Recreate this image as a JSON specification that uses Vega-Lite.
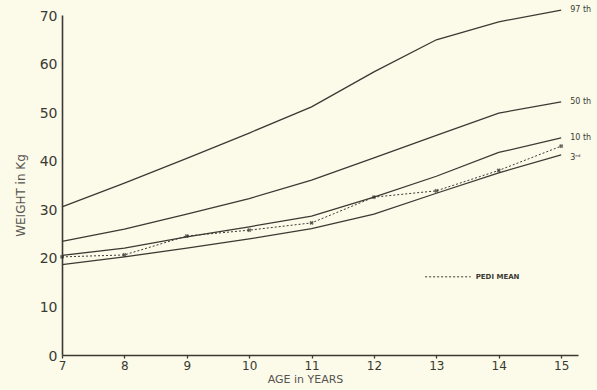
{
  "$schema": "https://vega.github.io/schema/vega-lite/v6.json",
  "width": 516,
  "height": 340,
  "autosize": {"type": "none"},
  "padding": {"left": 62, "top": 15, "right": 19, "bottom": 35},
  "background": "#fcfae9",
  "config": {
    "view": {"stroke": null},
    "font": "DejaVu Sans",
    "axis": {"grid": false, "domainColor": "#3a3a33", "tickColor": "#3a3a33", "labelColor": "#3a3a33", "titleColor": "#555550", "domainWidth": 1.6, "tickWidth": 1.3}
  },
  "datasets": {
    "growth": [
      {"age": 7, "weight": 30.5, "series": "97th"},
      {"age": 8, "weight": 35.4, "series": "97th"},
      {"age": 9, "weight": 40.5, "series": "97th"},
      {"age": 10, "weight": 45.7, "series": "97th"},
      {"age": 11, "weight": 51.1, "series": "97th"},
      {"age": 12, "weight": 58.3, "series": "97th"},
      {"age": 13, "weight": 64.9, "series": "97th"},
      {"age": 14, "weight": 68.6, "series": "97th"},
      {"age": 15, "weight": 71.0, "series": "97th"},
      {"age": 7, "weight": 23.4, "series": "50th"},
      {"age": 8, "weight": 25.9, "series": "50th"},
      {"age": 9, "weight": 29.0, "series": "50th"},
      {"age": 10, "weight": 32.2, "series": "50th"},
      {"age": 11, "weight": 36.0, "series": "50th"},
      {"age": 12, "weight": 40.6, "series": "50th"},
      {"age": 13, "weight": 45.2, "series": "50th"},
      {"age": 14, "weight": 49.8, "series": "50th"},
      {"age": 15, "weight": 52.1, "series": "50th"},
      {"age": 7, "weight": 20.5, "series": "10th"},
      {"age": 8, "weight": 22.0, "series": "10th"},
      {"age": 9, "weight": 24.3, "series": "10th"},
      {"age": 10, "weight": 26.4, "series": "10th"},
      {"age": 11, "weight": 28.6, "series": "10th"},
      {"age": 12, "weight": 32.5, "series": "10th"},
      {"age": 13, "weight": 36.8, "series": "10th"},
      {"age": 14, "weight": 41.7, "series": "10th"},
      {"age": 15, "weight": 44.7, "series": "10th"},
      {"age": 7, "weight": 18.6, "series": "3rd"},
      {"age": 8, "weight": 20.2, "series": "3rd"},
      {"age": 9, "weight": 22.0, "series": "3rd"},
      {"age": 10, "weight": 23.9, "series": "3rd"},
      {"age": 11, "weight": 26.0, "series": "3rd"},
      {"age": 12, "weight": 29.0, "series": "3rd"},
      {"age": 13, "weight": 33.3, "series": "3rd"},
      {"age": 14, "weight": 37.5, "series": "3rd"},
      {"age": 15, "weight": 41.2, "series": "3rd"}
    ],
    "mean": [
      {"age": 7, "weight": 20.2},
      {"age": 8, "weight": 20.6},
      {"age": 9, "weight": 24.5},
      {"age": 10, "weight": 25.7},
      {"age": 11, "weight": 27.2},
      {"age": 12, "weight": 32.5},
      {"age": 13, "weight": 33.8},
      {"age": 14, "weight": 38.0},
      {"age": 15, "weight": 43.0}
    ],
    "labels": [
      {"age": 15, "weight": 71.0, "label": "97 th"},
      {"age": 15, "weight": 52.1, "label": "50 th"},
      {"age": 15, "weight": 44.7, "label": "10 th"},
      {"age": 15, "weight": 40.6, "label": "3ʳᵈ"}
    ],
    "legend": [
      {"age": 12.82, "age2": 13.55, "weight": 16.1, "label": "PEDI  MEAN"}
    ]
  },
  "layer": [
    {
      "data": {"name": "growth"},
      "mark": {"type": "line", "color": "#3a3a33", "strokeWidth": 1.3},
      "encoding": {
        "x": {"field": "age", "type": "quantitative", "scale": {"domain": [7, 15.27], "nice": false, "zero": false},
          "axis": {"title": "AGE  in  YEARS", "values": [7, 8, 9, 10, 11, 12, 13, 14, 15], "format": "d", "tickSize": 3, "labelPadding": 2, "labelFontSize": 12, "labelFont": "DejaVu Sans", "titleFontSize": 11, "titleFontWeight": "normal", "titlePadding": 2, "titleX": 243, "labelFlush": false}},
        "y": {"field": "weight", "type": "quantitative", "scale": {"domain": [0, 70], "nice": false},
          "axis": {"title": "WEIGHT  in  Kg", "values": [0, 10, 20, 30, 40, 50, 60, 70], "tickSize": 0, "labelPadding": 5, "labelFontSize": 14, "labelFont": "DejaVu Sans", "labelBaseline": "bottom", "labelOffset": 8, "titleFontSize": 12, "titleFontWeight": "normal", "titlePadding": 12, "titleY": 180}},
        "detail": {"field": "series"}
      }
    },
    {
      "data": {"name": "mean"},
      "mark": {"type": "line", "color": "#3a3a33", "strokeWidth": 1, "strokeDash": [2, 2]},
      "encoding": {
        "x": {"field": "age", "type": "quantitative"},
        "y": {"field": "weight", "type": "quantitative"}
      }
    },
    {
      "data": {"name": "mean"},
      "mark": {"type": "point", "shape": "cross", "angle": 45, "size": 18, "filled": true, "color": "#2a2a25"},
      "encoding": {
        "x": {"field": "age", "type": "quantitative"},
        "y": {"field": "weight", "type": "quantitative"}
      }
    },
    {
      "data": {"name": "labels"},
      "mark": {"type": "text", "align": "left", "dx": 9, "fontSize": 8, "color": "#3a3a33", "font": "DejaVu Sans"},
      "encoding": {
        "x": {"field": "age", "type": "quantitative"},
        "y": {"field": "weight", "type": "quantitative"},
        "text": {"field": "label"}
      }
    },
    {
      "data": {"name": "legend"},
      "mark": {"type": "rule", "color": "#3a3a33", "strokeWidth": 1, "strokeDash": [2, 2]},
      "encoding": {
        "x": {"field": "age", "type": "quantitative"},
        "x2": {"field": "age2"},
        "y": {"field": "weight", "type": "quantitative"}
      }
    },
    {
      "data": {"name": "legend"},
      "mark": {"type": "text", "align": "left", "dx": 5, "fontSize": 7, "fontWeight": "bold", "color": "#3a3a33", "font": "DejaVu Sans"},
      "encoding": {
        "x": {"field": "age2", "type": "quantitative"},
        "y": {"field": "weight", "type": "quantitative"},
        "text": {"field": "label"}
      }
    }
  ]
}
